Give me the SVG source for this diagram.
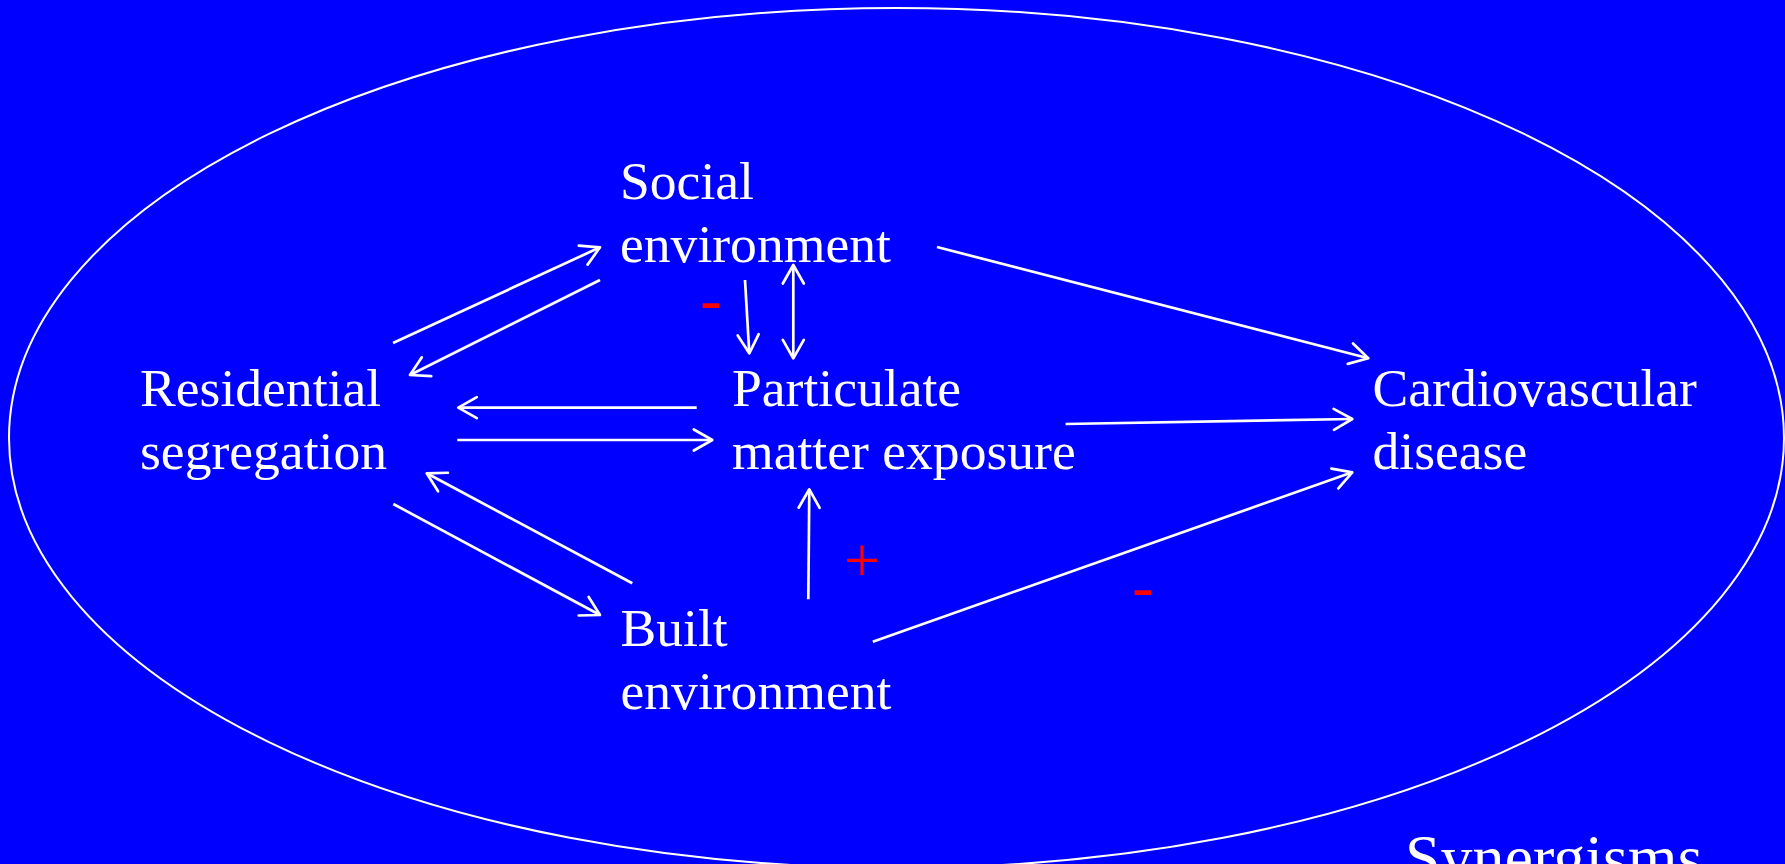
<svg xmlns="http://www.w3.org/2000/svg" width="1785" height="864" viewBox="0 0 1785 864">
<defs>
<style>
.lbl{font-family:"Liberation Serif","Times New Roman",serif;font-size:53.6px;fill:#ffffff}
.sign{font-family:"Liberation Serif","Times New Roman",serif;font-size:64px;fill:#ff0000;text-anchor:middle}
.c{stroke:#ffffff;stroke-width:2.7;fill:none;marker-end:url(#ah)}
</style>
<marker id="ah" viewBox="-24 -14 30 28" refX="0" refY="0" markerWidth="30" markerHeight="28" orient="auto-start-reverse" markerUnits="userSpaceOnUse">
<path d="M-18.5,-10.5 L0,0 L-18.5,10.5" fill="none" stroke="#ffffff" stroke-width="2.7" stroke-linejoin="round" stroke-linecap="round"/>
</marker>
</defs>
<rect x="0" y="0" width="1785" height="864" fill="#0000ff"/>
<ellipse cx="896.5" cy="438" rx="887.5" ry="430" fill="none" stroke="#ffffff" stroke-width="2"/>
<g id="connectors">
<line class="c" x1="393" y1="343" x2="600" y2="247.3"/>
<line class="c" x1="600" y1="280" x2="410" y2="375"/>
<line class="c" x1="696.7" y1="407.7" x2="458.3" y2="407.7"/>
<line class="c" x1="457.3" y1="440" x2="712.3" y2="440"/>
<line class="c" x1="632.3" y1="583.3" x2="426.7" y2="473.3"/>
<line class="c" x1="393.3" y1="504" x2="600" y2="615"/>
<line class="c" x1="745" y1="280" x2="749.3" y2="353.3"/>
<line class="c" x1="793.3" y1="265" x2="793.3" y2="358.3" style="marker-start:url(#ah)"/>
<line class="c" x1="808.3" y1="599.3" x2="809.3" y2="489.3"/>
<line class="c" x1="937" y1="247" x2="1368.3" y2="358.3"/>
<line class="c" x1="1065.6" y1="424" x2="1352.3" y2="419"/>
<line class="c" x1="872.8" y1="641.7" x2="1352.3" y2="472.3"/>
</g>
<g id="signs">
<text class="sign" x="711" y="321">-</text>
<text class="sign" x="862" y="582">+</text>
<text class="sign" x="1143" y="608">-</text>
</g>
<g id="social"><text class="lbl" x="620" y="199">Social</text><text class="lbl" x="620" y="262">environment</text></g>
<g id="residential"><text class="lbl" x="140" y="406">Residential</text><text class="lbl" x="140" y="469">segregation</text></g>
<g id="particulate"><text class="lbl" x="732" y="406">Particulate</text><text class="lbl" x="732" y="469">matter exposure</text></g>
<g id="cardio"><text class="lbl" x="1372.5" y="406">Cardiovascular</text><text class="lbl" x="1372.5" y="469">disease</text></g>
<g id="built"><text class="lbl" x="620.5" y="646">Built</text><text class="lbl" x="620.5" y="709">environment</text></g>
<g id="synergisms"><text class="lbl" x="1405" y="879" style="font-size:64px">Synergisms</text></g>
</svg>
